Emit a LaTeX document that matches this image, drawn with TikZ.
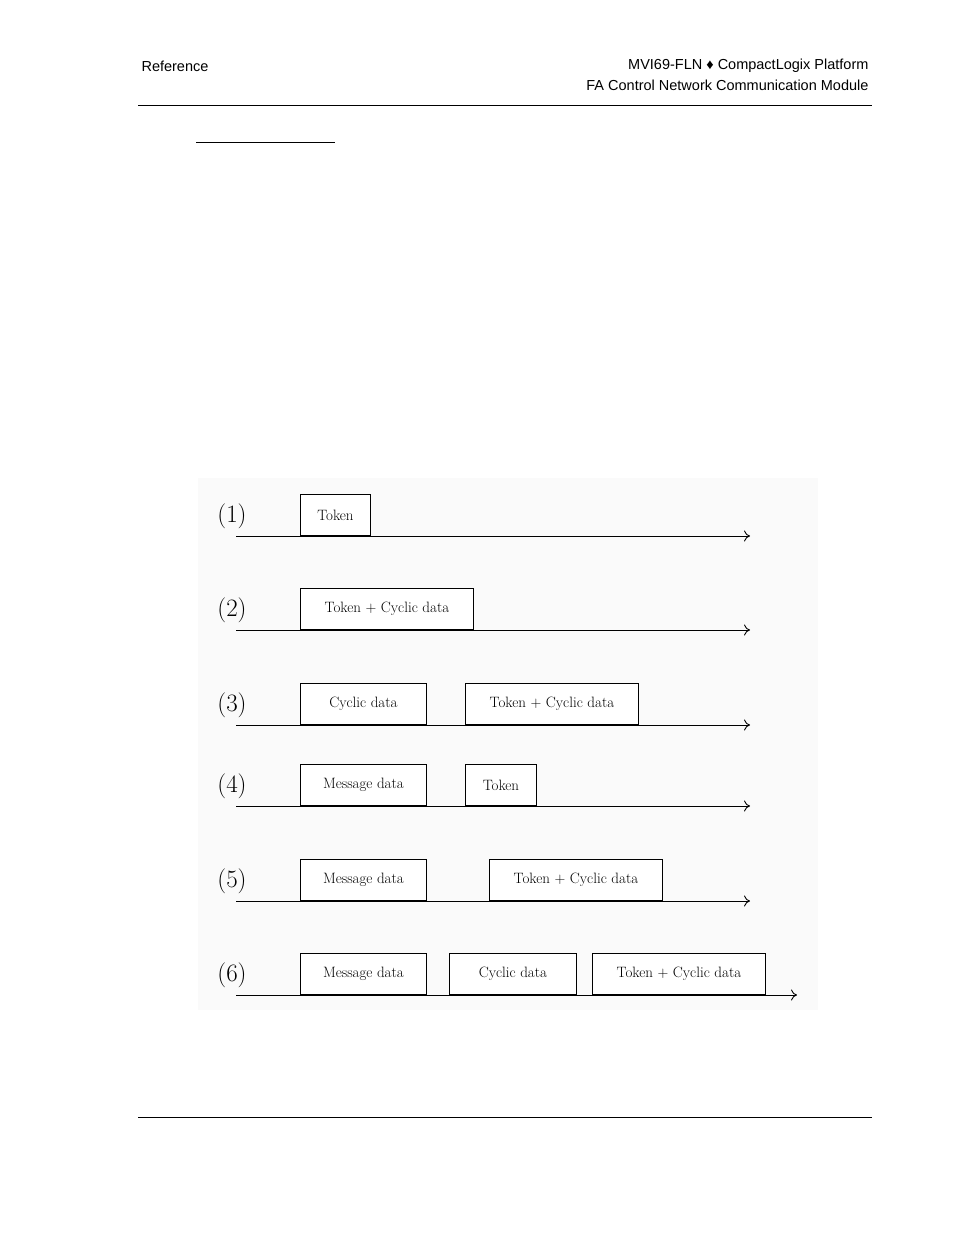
\documentclass[tikz,border=0pt]{standalone}
\usepackage{fontspec}
\newfontfamily\hdr{Liberation Sans}
\usetikzlibrary{arrows.meta}
\begin{document}
\begin{tikzpicture}[x=1pt,y=-1pt,
  pkt/.style={draw, line width=0.9pt, minimum height=41pt, inner sep=0pt, anchor=south west, font=\fontsize{15}{17}\selectfont, fill=white},
  axis/.style={line width=0.9pt, -{To[length=6pt,width=11pt]}},
  lbl/.style={font=\fontsize{25}{27}\selectfont, anchor=center},
  hd/.style={font=\hdr\fontsize{14.5}{17}\selectfont}]
\useasboundingbox (0,0) rectangle (954,1235);
\fill[white] (0,0) rectangle (954,1235);
\node[hd, anchor=west] (ref) at (138,66) {Reference};
\node[hd, anchor=east] (t1) at (872,66) {MVI69-FLN \symbol{"2666} CompactLogix Platform};
\node[hd, anchor=east] (t2) at (872,85) {FA Control Network Communication Module};
\draw[line width=0.7pt] (138,105) -- (872,105);
\draw[line width=0.7pt] (196,142) -- (335,142);
\draw[line width=0.7pt] (138,1117) -- (872,1117);
\fill[black!2] (198,478) rectangle (818,1010);
% rows
\foreach \n/\y/\e in {1/536/750,2/630/750,3/725/750,4/806/750,5/901/750,6/995/797}{
  \coordinate (s\n) at (236,\y);
  \coordinate (e\n) at (\e,\y);
  \draw[axis] (s\n) -- (e\n);
  \node[lbl] (l\n) at (232,\y-20) {(\n)};
}
\node[pkt, minimum width=70pt] (b11) at (300,536) {Token};
\node[pkt, minimum width=173pt] (b21) at (300,630) {Token + Cyclic data};
\node[pkt, minimum width=126pt] (b31) at (300,725) {Cyclic data};
\node[pkt, minimum width=173pt] (b32) at (465,725) {Token + Cyclic data};
\node[pkt, minimum width=126pt] (b41) at (300,806) {Message data};
\node[pkt, minimum width=71pt] (b42) at (465,806) {Token};
\node[pkt, minimum width=126pt] (b51) at (300,901) {Message data};
\node[pkt, minimum width=173pt] (b52) at (489,901) {Token + Cyclic data};
\node[pkt, minimum width=126pt] (b61) at (300,995) {Message data};
\node[pkt, minimum width=127pt] (b62) at (449,995) {Cyclic data};
\node[pkt, minimum width=173pt] (b63) at (592,995) {Token + Cyclic data};
\end{tikzpicture}
\end{document}
